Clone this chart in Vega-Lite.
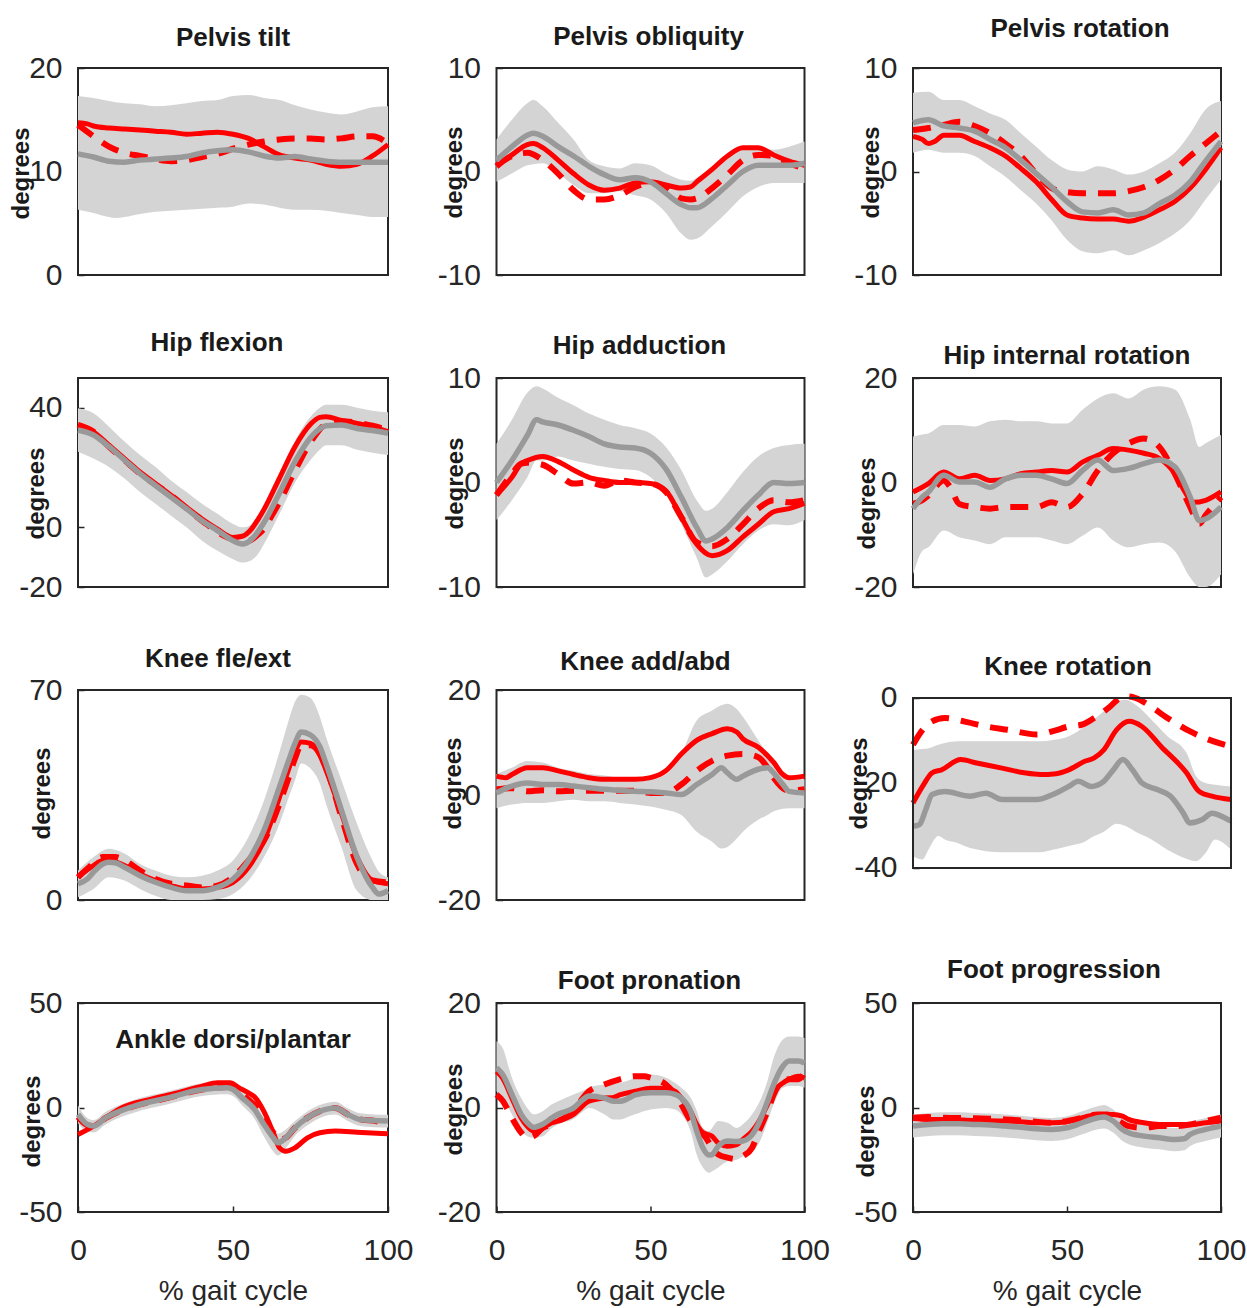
{
"$schema": "https://vega.github.io/schema/vega-lite/v6.json",
"padding": {"left": 8, "top": 14, "right": 5, "bottom": 2},
"background": "white",
"datasets": {
"p1": [
{"s":"b","x":0,"y":6.3,"y2":17.3},{"s":"b","x":5,"y":6.0,"y2":17.1},{"s":"b","x":10,"y":5.6,"y2":16.8},{"s":"b","x":12,"y":5.5,"y2":16.7},{"s":"b","x":15,"y":5.6,"y2":16.6},{"s":"b","x":20,"y":5.9,"y2":16.5},{"s":"b","x":25,"y":6.1,"y2":16.3},{"s":"b","x":30,"y":6.2,"y2":16.4},{"s":"b","x":35,"y":6.3,"y2":16.6},{"s":"b","x":40,"y":6.4,"y2":16.8},{"s":"b","x":45,"y":6.5,"y2":16.9},{"s":"b","x":50,"y":6.6,"y2":17.3},{"s":"b","x":55,"y":6.9,"y2":17.4},{"s":"b","x":60,"y":6.8,"y2":17.1},{"s":"b","x":65,"y":6.5,"y2":16.9},{"s":"b","x":70,"y":6.3,"y2":16.4},{"s":"b","x":75,"y":6.3,"y2":16.0},{"s":"b","x":80,"y":6.2,"y2":15.7},{"s":"b","x":85,"y":6.0,"y2":15.5},{"s":"b","x":90,"y":5.8,"y2":15.8},{"s":"b","x":95,"y":5.6,"y2":16.2},{"s":"b","x":100,"y":5.6,"y2":16.3},
{"s":"g","x":0,"y":11.7},{"s":"g","x":5,"y":11.4},{"s":"g","x":10,"y":11.0},{"s":"g","x":15,"y":10.9},{"s":"g","x":20,"y":11.1},{"s":"g","x":25,"y":11.2},{"s":"g","x":30,"y":11.3},{"s":"g","x":35,"y":11.45},{"s":"g","x":40,"y":11.8},{"s":"g","x":45,"y":12.0},{"s":"g","x":50,"y":12.1},{"s":"g","x":55,"y":11.9},{"s":"g","x":60,"y":11.5},{"s":"g","x":65,"y":11.3},{"s":"g","x":70,"y":11.45},{"s":"g","x":75,"y":11.2},{"s":"g","x":80,"y":11.0},{"s":"g","x":85,"y":10.9},{"s":"g","x":90,"y":10.9},{"s":"g","x":95,"y":10.9},{"s":"g","x":100,"y":10.9},
{"s":"r","x":0,"y":14.7},{"s":"r","x":3,"y":14.6},{"s":"r","x":5,"y":14.4},{"s":"r","x":10,"y":14.2},{"s":"r","x":15,"y":14.1},{"s":"r","x":20,"y":14.0},{"s":"r","x":25,"y":13.9},{"s":"r","x":30,"y":13.8},{"s":"r","x":35,"y":13.6},{"s":"r","x":40,"y":13.7},{"s":"r","x":45,"y":13.8},{"s":"r","x":50,"y":13.6},{"s":"r","x":55,"y":13.2},{"s":"r","x":60,"y":12.4},{"s":"r","x":65,"y":11.6},{"s":"r","x":70,"y":11.3},{"s":"r","x":75,"y":11.1},{"s":"r","x":80,"y":10.7},{"s":"r","x":85,"y":10.5},{"s":"r","x":90,"y":10.7},{"s":"r","x":95,"y":11.5},{"s":"r","x":100,"y":12.6},
{"s":"d","x":0,"y":14.5},{"s":"d","x":5,"y":13.4},{"s":"d","x":10,"y":12.4},{"s":"d","x":15,"y":11.8},{"s":"d","x":20,"y":11.5},{"s":"d","x":25,"y":11.2},{"s":"d","x":30,"y":11.0},{"s":"d","x":35,"y":11.1},{"s":"d","x":40,"y":11.4},{"s":"d","x":45,"y":11.7},{"s":"d","x":50,"y":12.2},{"s":"d","x":55,"y":12.6},{"s":"d","x":60,"y":12.9},{"s":"d","x":65,"y":13.1},{"s":"d","x":70,"y":13.2},{"s":"d","x":75,"y":13.2},{"s":"d","x":80,"y":13.1},{"s":"d","x":85,"y":13.2},{"s":"d","x":90,"y":13.4},{"s":"d","x":95,"y":13.4},{"s":"d","x":100,"y":12.7}
],
"p2": [
{"s":"b","x":0,"y":-1.0,"y2":3.1},{"s":"b","x":5,"y":-0.2,"y2":5.0},{"s":"b","x":10,"y":0.6,"y2":6.6},{"s":"b","x":12,"y":0.7,"y2":6.9},{"s":"b","x":15,"y":0.8,"y2":6.3},{"s":"b","x":20,"y":-0.2,"y2":4.7},{"s":"b","x":25,"y":-1.3,"y2":3.1},{"s":"b","x":30,"y":-2.1,"y2":1.1},{"s":"b","x":35,"y":-2.1,"y2":0.5},{"s":"b","x":40,"y":-1.9,"y2":0.3},{"s":"b","x":45,"y":-2.3,"y2":0.8},{"s":"b","x":50,"y":-2.7,"y2":0.6},{"s":"b","x":55,"y":-4.0,"y2":-0.2},{"s":"b","x":60,"y":-6.0,"y2":-0.8},{"s":"b","x":63,"y":-6.6,"y2":-0.9},{"s":"b","x":65,"y":-6.5,"y2":-0.6},{"s":"b","x":70,"y":-5.3,"y2":0.2},{"s":"b","x":75,"y":-3.9,"y2":1.3},{"s":"b","x":80,"y":-2.4,"y2":2.1},{"s":"b","x":85,"y":-1.5,"y2":2.3},{"s":"b","x":90,"y":-1.1,"y2":2.1},{"s":"b","x":95,"y":-1.1,"y2":2.4},{"s":"b","x":100,"y":-1.1,"y2":2.9},
{"s":"g","x":0,"y":1.1},{"s":"g","x":5,"y":2.4},{"s":"g","x":10,"y":3.5},{"s":"g","x":12,"y":3.7},{"s":"g","x":15,"y":3.4},{"s":"g","x":20,"y":2.4},{"s":"g","x":25,"y":1.5},{"s":"g","x":30,"y":0.5},{"s":"g","x":35,"y":-0.3},{"s":"g","x":40,"y":-0.8},{"s":"g","x":45,"y":-0.6},{"s":"g","x":50,"y":-1.0},{"s":"g","x":55,"y":-2.1},{"s":"g","x":60,"y":-3.2},{"s":"g","x":63,"y":-3.5},{"s":"g","x":65,"y":-3.5},{"s":"g","x":70,"y":-2.6},{"s":"g","x":75,"y":-1.3},{"s":"g","x":80,"y":0.0},{"s":"g","x":85,"y":0.6},{"s":"g","x":90,"y":0.6},{"s":"g","x":95,"y":0.6},{"s":"g","x":100,"y":0.8},
{"s":"r","x":0,"y":0.6},{"s":"r","x":5,"y":1.6},{"s":"r","x":10,"y":2.6},{"s":"r","x":12,"y":2.7},{"s":"r","x":15,"y":2.3},{"s":"r","x":20,"y":1.1},{"s":"r","x":25,"y":-0.2},{"s":"r","x":30,"y":-1.3},{"s":"r","x":35,"y":-1.8},{"s":"r","x":40,"y":-1.6},{"s":"r","x":45,"y":-1.1},{"s":"r","x":50,"y":-1.0},{"s":"r","x":55,"y":-1.3},{"s":"r","x":60,"y":-1.6},{"s":"r","x":63,"y":-1.5},{"s":"r","x":65,"y":-1.0},{"s":"r","x":70,"y":0.2},{"s":"r","x":75,"y":1.5},{"s":"r","x":80,"y":2.3},{"s":"r","x":85,"y":2.3},{"s":"r","x":90,"y":1.6},{"s":"r","x":95,"y":1.0},{"s":"r","x":100,"y":0.6},
{"s":"d","x":0,"y":0.5},{"s":"d","x":5,"y":1.5},{"s":"d","x":10,"y":1.8},{"s":"d","x":15,"y":1.1},{"s":"d","x":20,"y":-0.2},{"s":"d","x":25,"y":-1.8},{"s":"d","x":30,"y":-2.7},{"s":"d","x":35,"y":-2.7},{"s":"d","x":40,"y":-2.3},{"s":"d","x":45,"y":-1.5},{"s":"d","x":50,"y":-1.1},{"s":"d","x":55,"y":-1.5},{"s":"d","x":60,"y":-2.6},{"s":"d","x":63,"y":-2.7},{"s":"d","x":65,"y":-2.6},{"s":"d","x":70,"y":-1.6},{"s":"d","x":75,"y":-0.3},{"s":"d","x":80,"y":1.1},{"s":"d","x":85,"y":1.6},{"s":"d","x":90,"y":1.5},{"s":"d","x":95,"y":0.8},{"s":"d","x":100,"y":0.3}
],
"p3": [
{"s":"b","x":0,"y":1.8,"y2":7.6},{"s":"b","x":5,"y":2.1,"y2":7.7},{"s":"b","x":10,"y":1.8,"y2":6.9},{"s":"b","x":15,"y":1.8,"y2":6.9},{"s":"b","x":20,"y":1.5,"y2":6.3},{"s":"b","x":25,"y":0.5,"y2":5.6},{"s":"b","x":30,"y":-0.5,"y2":5.0},{"s":"b","x":35,"y":-1.8,"y2":3.7},{"s":"b","x":40,"y":-3.1,"y2":2.4},{"s":"b","x":45,"y":-4.7,"y2":1.1},{"s":"b","x":50,"y":-6.6,"y2":0.2},{"s":"b","x":55,"y":-7.7,"y2":0.0},{"s":"b","x":60,"y":-7.9,"y2":0.5},{"s":"b","x":65,"y":-7.6,"y2":0.2},{"s":"b","x":70,"y":-8.1,"y2":-0.3},{"s":"b","x":75,"y":-7.6,"y2":0.0},{"s":"b","x":80,"y":-6.9,"y2":0.8},{"s":"b","x":85,"y":-6.0,"y2":1.8},{"s":"b","x":90,"y":-4.7,"y2":3.7},{"s":"b","x":95,"y":-2.7,"y2":6.0},{"s":"b","x":100,"y":-0.8,"y2":6.8},
{"s":"g","x":0,"y":4.7},{"s":"g","x":5,"y":5.0},{"s":"g","x":10,"y":4.4},{"s":"g","x":15,"y":4.2},{"s":"g","x":20,"y":3.9},{"s":"g","x":25,"y":3.1},{"s":"g","x":30,"y":2.3},{"s":"g","x":35,"y":1.1},{"s":"g","x":40,"y":-0.2},{"s":"g","x":45,"y":-1.5},{"s":"g","x":50,"y":-2.9},{"s":"g","x":55,"y":-3.9},{"s":"g","x":60,"y":-4.0},{"s":"g","x":65,"y":-3.7},{"s":"g","x":70,"y":-4.2},{"s":"g","x":75,"y":-4.0},{"s":"g","x":80,"y":-3.1},{"s":"g","x":85,"y":-2.3},{"s":"g","x":90,"y":-1.0},{"s":"g","x":95,"y":1.0},{"s":"g","x":100,"y":2.9},
{"s":"r","x":0,"y":3.4},{"s":"r","x":3,"y":3.1},{"s":"r","x":5,"y":2.7},{"s":"r","x":7,"y":2.9},{"s":"r","x":10,"y":3.5},{"s":"r","x":15,"y":3.5},{"s":"r","x":20,"y":2.9},{"s":"r","x":25,"y":2.3},{"s":"r","x":30,"y":1.5},{"s":"r","x":35,"y":0.3},{"s":"r","x":40,"y":-1.0},{"s":"r","x":45,"y":-2.7},{"s":"r","x":50,"y":-4.2},{"s":"r","x":55,"y":-4.5},{"s":"r","x":60,"y":-4.6},{"s":"r","x":65,"y":-4.6},{"s":"r","x":70,"y":-4.8},{"s":"r","x":75,"y":-4.4},{"s":"r","x":80,"y":-3.7},{"s":"r","x":85,"y":-2.9},{"s":"r","x":90,"y":-1.6},{"s":"r","x":95,"y":0.2},{"s":"r","x":100,"y":2.3},
{"s":"d","x":0,"y":4.0},{"s":"d","x":5,"y":4.2},{"s":"d","x":10,"y":4.5},{"s":"d","x":15,"y":4.8},{"s":"d","x":20,"y":4.4},{"s":"d","x":25,"y":3.7},{"s":"d","x":30,"y":2.7},{"s":"d","x":35,"y":1.5},{"s":"d","x":40,"y":-0.2},{"s":"d","x":45,"y":-1.6},{"s":"d","x":48,"y":-1.9},{"s":"d","x":55,"y":-2.1},{"s":"d","x":60,"y":-2.1},{"s":"d","x":65,"y":-2.1},{"s":"d","x":70,"y":-1.9},{"s":"d","x":75,"y":-1.5},{"s":"d","x":80,"y":-0.8},{"s":"d","x":85,"y":0.2},{"s":"d","x":90,"y":1.5},{"s":"d","x":95,"y":2.7},{"s":"d","x":100,"y":3.9}
],
"p4": [
{"s":"b","x":0,"y":25.3,"y2":39.9},{"s":"b","x":5,"y":23.0,"y2":38.2},{"s":"b","x":10,"y":20.2,"y2":33.7},{"s":"b","x":15,"y":16.3,"y2":28.7},{"s":"b","x":20,"y":11.8,"y2":24.2},{"s":"b","x":25,"y":7.9,"y2":20.2},{"s":"b","x":30,"y":3.9,"y2":15.7},{"s":"b","x":35,"y":0.0,"y2":11.8},{"s":"b","x":40,"y":-4.5,"y2":7.9},{"s":"b","x":45,"y":-7.9,"y2":4.5},{"s":"b","x":50,"y":-10.7,"y2":1.1},{"s":"b","x":53,"y":-11.8,"y2":0.0},{"s":"b","x":56,"y":-11.0,"y2":0.8},{"s":"b","x":58,"y":-9.0,"y2":3.5},{"s":"b","x":60,"y":-5.6,"y2":7.0},{"s":"b","x":65,"y":4.5,"y2":18.0},{"s":"b","x":70,"y":15.0,"y2":29.0},{"s":"b","x":75,"y":22.5,"y2":37.0},{"s":"b","x":78,"y":26.0,"y2":40.0},{"s":"b","x":80,"y":27.5,"y2":41.0},{"s":"b","x":85,"y":27.5,"y2":41.0},{"s":"b","x":90,"y":26.0,"y2":40.0},{"s":"b","x":95,"y":25.0,"y2":39.0},{"s":"b","x":100,"y":24.2,"y2":38.5},
{"s":"g","x":0,"y":32.6},{"s":"g","x":5,"y":30.9},{"s":"g","x":10,"y":27.0},{"s":"g","x":15,"y":22.5},{"s":"g","x":20,"y":18.0},{"s":"g","x":25,"y":14.0},{"s":"g","x":30,"y":10.1},{"s":"g","x":35,"y":6.2},{"s":"g","x":40,"y":2.2},{"s":"g","x":45,"y":-1.1},{"s":"g","x":50,"y":-4.5},{"s":"g","x":53,"y":-5.6},{"s":"g","x":56,"y":-4.0},{"s":"g","x":58,"y":-1.5},{"s":"g","x":60,"y":1.6},{"s":"g","x":65,"y":11.5},{"s":"g","x":70,"y":22.0},{"s":"g","x":75,"y":30.0},{"s":"g","x":78,"y":33.0},{"s":"g","x":80,"y":34.0},{"s":"g","x":85,"y":34.3},{"s":"g","x":90,"y":33.1},{"s":"g","x":95,"y":32.4},{"s":"g","x":100,"y":31.5},
{"s":"r","x":0,"y":34.3},{"s":"r","x":5,"y":32.0},{"s":"r","x":10,"y":27.5},{"s":"r","x":15,"y":23.0},{"s":"r","x":20,"y":18.5},{"s":"r","x":25,"y":14.6},{"s":"r","x":30,"y":10.7},{"s":"r","x":35,"y":6.7},{"s":"r","x":40,"y":2.8},{"s":"r","x":45,"y":-0.6},{"s":"r","x":50,"y":-3.4},{"s":"r","x":53,"y":-3.0},{"s":"r","x":56,"y":-0.5},{"s":"r","x":58,"y":2.5},{"s":"r","x":60,"y":6.0},{"s":"r","x":65,"y":16.5},{"s":"r","x":70,"y":27.0},{"s":"r","x":75,"y":34.5},{"s":"r","x":78,"y":36.8},{"s":"r","x":80,"y":37.0},{"s":"r","x":85,"y":35.8},{"s":"r","x":90,"y":34.8},{"s":"r","x":95,"y":33.7},{"s":"r","x":100,"y":32.0},
{"s":"d","x":0,"y":34.3},{"s":"d","x":5,"y":32.0},{"s":"d","x":10,"y":27.0},{"s":"d","x":15,"y":22.5},{"s":"d","x":20,"y":18.0},{"s":"d","x":30,"y":10.7},{"s":"d","x":40,"y":2.2},{"s":"d","x":50,"y":-4.0},{"s":"d","x":55,"y":-4.5},{"s":"d","x":58,"y":-2.5},{"s":"d","x":60,"y":-0.5},{"s":"d","x":62,"y":3.0},{"s":"d","x":65,"y":8.5},{"s":"d","x":70,"y":19.0},{"s":"d","x":75,"y":28.5},{"s":"d","x":80,"y":34.5},{"s":"d","x":85,"y":35.5},{"s":"d","x":90,"y":35.0},{"s":"d","x":95,"y":34.0},{"s":"d","x":100,"y":32.5}
],
"p5": [
{"s":"b","x":0,"y":-3.6,"y2":3.7},{"s":"b","x":5,"y":-1.7,"y2":6.0},{"s":"b","x":10,"y":0.5,"y2":8.6},{"s":"b","x":13,"y":2.1,"y2":9.2},{"s":"b","x":15,"y":2.1,"y2":9.0},{"s":"b","x":20,"y":2.5,"y2":8.1},{"s":"b","x":25,"y":2.1,"y2":7.4},{"s":"b","x":30,"y":1.8,"y2":6.6},{"s":"b","x":35,"y":1.5,"y2":6.0},{"s":"b","x":40,"y":1.3,"y2":5.5},{"s":"b","x":45,"y":1.2,"y2":5.2},{"s":"b","x":50,"y":0.5,"y2":4.7},{"s":"b","x":55,"y":-1.1,"y2":3.4},{"s":"b","x":60,"y":-4.0,"y2":1.2},{"s":"b","x":65,"y":-7.2,"y2":-1.7},{"s":"b","x":68,"y":-9.1,"y2":-2.7},{"s":"b","x":70,"y":-8.8,"y2":-2.5},{"s":"b","x":75,"y":-7.5,"y2":-0.9},{"s":"b","x":80,"y":-5.9,"y2":1.0},{"s":"b","x":85,"y":-4.6,"y2":2.5},{"s":"b","x":90,"y":-4.0,"y2":3.3},{"s":"b","x":95,"y":-4.1,"y2":3.6},{"s":"b","x":100,"y":-3.6,"y2":3.7},
{"s":"g","x":0,"y":0.0},{"s":"g","x":5,"y":2.1},{"s":"g","x":10,"y":4.5},{"s":"g","x":13,"y":6.0},{"s":"g","x":15,"y":5.8},{"s":"g","x":20,"y":5.5},{"s":"g","x":25,"y":5.0},{"s":"g","x":30,"y":4.4},{"s":"g","x":35,"y":3.7},{"s":"g","x":40,"y":3.4},{"s":"g","x":45,"y":3.3},{"s":"g","x":50,"y":2.8},{"s":"g","x":55,"y":1.3},{"s":"g","x":60,"y":-1.4},{"s":"g","x":65,"y":-4.3},{"s":"g","x":68,"y":-5.6},{"s":"g","x":70,"y":-5.4},{"s":"g","x":75,"y":-4.3},{"s":"g","x":80,"y":-2.7},{"s":"g","x":85,"y":-1.2},{"s":"g","x":90,"y":0.0},{"s":"g","x":95,"y":-0.1},{"s":"g","x":100,"y":0.0},
{"s":"r","x":0,"y":-1.2},{"s":"r","x":5,"y":0.5},{"s":"r","x":8,"y":1.8},{"s":"r","x":10,"y":2.1},{"s":"r","x":15,"y":2.5},{"s":"r","x":20,"y":2.0},{"s":"r","x":25,"y":1.2},{"s":"r","x":30,"y":0.5},{"s":"r","x":35,"y":0.2},{"s":"r","x":40,"y":0.0},{"s":"r","x":45,"y":0.0},{"s":"r","x":50,"y":-0.1},{"s":"r","x":55,"y":-0.8},{"s":"r","x":60,"y":-3.3},{"s":"r","x":65,"y":-5.9},{"s":"r","x":70,"y":-7.0},{"s":"r","x":75,"y":-6.5},{"s":"r","x":80,"y":-5.2},{"s":"r","x":85,"y":-4.0},{"s":"r","x":90,"y":-2.8},{"s":"r","x":95,"y":-2.5},{"s":"r","x":100,"y":-2.0},
{"s":"d","x":0,"y":-1.2},{"s":"d","x":5,"y":0.8},{"s":"d","x":8,"y":1.8},{"s":"d","x":10,"y":1.9},{"s":"d","x":15,"y":1.7},{"s":"d","x":20,"y":0.8},{"s":"d","x":25,"y":-0.1},{"s":"d","x":30,"y":0.0},{"s":"d","x":35,"y":-0.3},{"s":"d","x":40,"y":0.2},{"s":"d","x":45,"y":0.0},{"s":"d","x":50,"y":-0.1},{"s":"d","x":55,"y":-0.9},{"s":"d","x":60,"y":-3.3},{"s":"d","x":65,"y":-5.7},{"s":"d","x":70,"y":-6.1},{"s":"d","x":75,"y":-5.4},{"s":"d","x":80,"y":-4.0},{"s":"d","x":85,"y":-2.5},{"s":"d","x":90,"y":-1.7},{"s":"d","x":95,"y":-1.9},{"s":"d","x":100,"y":-1.7}
],
"p6": [
{"s":"b","x":0,"y":-17.6,"y2":8.8},{"s":"b","x":3,"y":-13.1,"y2":9.2},{"s":"b","x":5,"y":-12.4,"y2":9.4},{"s":"b","x":10,"y":-9.2,"y2":11.0},{"s":"b","x":15,"y":-10.5,"y2":11.0},{"s":"b","x":20,"y":-11.1,"y2":10.7},{"s":"b","x":25,"y":-11.8,"y2":11.7},{"s":"b","x":30,"y":-10.5,"y2":12.0},{"s":"b","x":35,"y":-10.5,"y2":11.7},{"s":"b","x":40,"y":-10.5,"y2":11.7},{"s":"b","x":45,"y":-11.1,"y2":11.3},{"s":"b","x":50,"y":-11.8,"y2":11.3},{"s":"b","x":55,"y":-10.2,"y2":13.9},{"s":"b","x":60,"y":-8.6,"y2":16.1},{"s":"b","x":65,"y":-11.1,"y2":17.1},{"s":"b","x":70,"y":-12.4,"y2":16.1},{"s":"b","x":75,"y":-11.8,"y2":17.8},{"s":"b","x":80,"y":-11.5,"y2":18.4},{"s":"b","x":85,"y":-13.1,"y2":17.8},{"s":"b","x":90,"y":-18.2,"y2":12.0},{"s":"b","x":93,"y":-20.0,"y2":6.8},{"s":"b","x":95,"y":-20.0,"y2":7.5},{"s":"b","x":100,"y":-17.6,"y2":9.1},
{"s":"g","x":0,"y":-5.0},{"s":"g","x":3,"y":-2.8},{"s":"g","x":5,"y":-1.8},{"s":"g","x":10,"y":1.4},{"s":"g","x":15,"y":0.1},{"s":"g","x":20,"y":0.1},{"s":"g","x":25,"y":-0.9},{"s":"g","x":30,"y":0.7},{"s":"g","x":35,"y":1.4},{"s":"g","x":40,"y":1.4},{"s":"g","x":45,"y":0.7},{"s":"g","x":50,"y":-0.2},{"s":"g","x":55,"y":2.3},{"s":"g","x":60,"y":4.3},{"s":"g","x":65,"y":2.3},{"s":"g","x":70,"y":2.7},{"s":"g","x":75,"y":3.6},{"s":"g","x":80,"y":4.3},{"s":"g","x":85,"y":3.0},{"s":"g","x":90,"y":-2.8},{"s":"g","x":93,"y":-7.3},{"s":"g","x":95,"y":-7.0},{"s":"g","x":100,"y":-4.7},
{"s":"r","x":0,"y":-1.8},{"s":"r","x":5,"y":-0.2},{"s":"r","x":10,"y":2.0},{"s":"r","x":15,"y":0.7},{"s":"r","x":20,"y":1.4},{"s":"r","x":25,"y":0.4},{"s":"r","x":30,"y":0.7},{"s":"r","x":35,"y":1.7},{"s":"r","x":40,"y":2.0},{"s":"r","x":45,"y":2.3},{"s":"r","x":50,"y":2.0},{"s":"r","x":55,"y":3.9},{"s":"r","x":60,"y":5.2},{"s":"r","x":65,"y":6.5},{"s":"r","x":70,"y":6.2},{"s":"r","x":75,"y":5.6},{"s":"r","x":80,"y":4.6},{"s":"r","x":85,"y":1.7},{"s":"r","x":88,"y":-1.5},{"s":"r","x":91,"y":-3.8},{"s":"r","x":95,"y":-3.4},{"s":"r","x":100,"y":-1.8},
{"s":"d","x":0,"y":-4.1},{"s":"d","x":3,"y":-3.4},{"s":"d","x":5,"y":-2.5},{"s":"d","x":10,"y":0.4},{"s":"d","x":12,"y":-0.8},{"s":"d","x":15,"y":-4.1},{"s":"d","x":20,"y":-4.7},{"s":"d","x":25,"y":-5.0},{"s":"d","x":30,"y":-4.7},{"s":"d","x":35,"y":-4.7},{"s":"d","x":40,"y":-4.7},{"s":"d","x":45,"y":-3.8},{"s":"d","x":50,"y":-4.7},{"s":"d","x":55,"y":-2.2},{"s":"d","x":60,"y":2.3},{"s":"d","x":65,"y":5.6},{"s":"d","x":70,"y":7.5},{"s":"d","x":75,"y":8.4},{"s":"d","x":80,"y":6.8},{"s":"d","x":85,"y":1.7},{"s":"d","x":90,"y":-4.7},{"s":"d","x":93,"y":-7.9},{"s":"d","x":95,"y":-6.3},{"s":"d","x":100,"y":-2.8}
],
"p7": [
{"s":"b","x":0,"y":0.9,"y2":9.8},{"s":"b","x":5,"y":3.7,"y2":14.3},{"s":"b","x":10,"y":7.6,"y2":17.1},{"s":"b","x":15,"y":6.5,"y2":15.5},{"s":"b","x":20,"y":3.7,"y2":12.0},{"s":"b","x":25,"y":1.4,"y2":9.8},{"s":"b","x":30,"y":0.0,"y2":8.1},{"s":"b","x":35,"y":0.0,"y2":7.6},{"s":"b","x":40,"y":0.0,"y2":8.1},{"s":"b","x":45,"y":0.3,"y2":9.8},{"s":"b","x":50,"y":2.0,"y2":13.2},{"s":"b","x":55,"y":6.5,"y2":21.0},{"s":"b","x":60,"y":14.3,"y2":33.2},{"s":"b","x":65,"y":25.4,"y2":49.4},{"s":"b","x":68,"y":34.3,"y2":60.0},{"s":"b","x":70,"y":39.9,"y2":66.1},{"s":"b","x":72,"y":45.5,"y2":68.4},{"s":"b","x":75,"y":43.8,"y2":67.3},{"s":"b","x":78,"y":38.8,"y2":61.1},{"s":"b","x":80,"y":32.1,"y2":54.4},{"s":"b","x":85,"y":17.6,"y2":39.9},{"s":"b","x":90,"y":3.1,"y2":25.4},{"s":"b","x":95,"y":0.0,"y2":13.2},{"s":"b","x":97,"y":0.0,"y2":9.5},{"s":"b","x":100,"y":0.0,"y2":7.6},
{"s":"g","x":0,"y":5.4},{"s":"g","x":3,"y":7.0},{"s":"g","x":5,"y":9.3},{"s":"g","x":8,"y":12.0},{"s":"g","x":10,"y":12.6},{"s":"g","x":12,"y":12.4},{"s":"g","x":15,"y":10.9},{"s":"g","x":20,"y":8.1},{"s":"g","x":25,"y":5.9},{"s":"g","x":30,"y":4.2},{"s":"g","x":35,"y":3.1},{"s":"g","x":40,"y":3.1},{"s":"g","x":45,"y":4.2},{"s":"g","x":50,"y":7.0},{"s":"g","x":55,"y":13.2},{"s":"g","x":60,"y":23.2},{"s":"g","x":65,"y":37.7},{"s":"g","x":68,"y":46.6},{"s":"g","x":70,"y":52.2},{"s":"g","x":72,"y":56.0},{"s":"g","x":75,"y":55.0},{"s":"g","x":78,"y":51.1},{"s":"g","x":80,"y":45.5},{"s":"g","x":85,"y":29.9},{"s":"g","x":90,"y":14.3},{"s":"g","x":95,"y":4.2},{"s":"g","x":97,"y":2.0},{"s":"g","x":100,"y":3.1},
{"s":"r","x":0,"y":7.6},{"s":"r","x":5,"y":11.5},{"s":"r","x":8,"y":13.2},{"s":"r","x":10,"y":13.2},{"s":"r","x":15,"y":11.5},{"s":"r","x":20,"y":8.7},{"s":"r","x":25,"y":6.5},{"s":"r","x":30,"y":4.8},{"s":"r","x":35,"y":3.7},{"s":"r","x":40,"y":3.7},{"s":"r","x":45,"y":4.2},{"s":"r","x":50,"y":5.9},{"s":"r","x":55,"y":10.9},{"s":"r","x":60,"y":19.8},{"s":"r","x":65,"y":34.3},{"s":"r","x":68,"y":43.8},{"s":"r","x":70,"y":49.4},{"s":"r","x":72,"y":52.7},{"s":"r","x":75,"y":52.2},{"s":"r","x":78,"y":48.3},{"s":"r","x":80,"y":43.3},{"s":"r","x":85,"y":28.8},{"s":"r","x":90,"y":14.3},{"s":"r","x":95,"y":6.5},{"s":"r","x":100,"y":5.4},
{"s":"d","x":0,"y":7.6},{"s":"d","x":3,"y":10.4},{"s":"d","x":8,"y":14.3},{"s":"d","x":12,"y":14.3},{"s":"d","x":15,"y":13.2},{"s":"d","x":20,"y":9.8},{"s":"d","x":25,"y":7.0},{"s":"d","x":30,"y":5.4},{"s":"d","x":35,"y":4.8},{"s":"d","x":40,"y":4.2},{"s":"d","x":45,"y":4.8},{"s":"d","x":50,"y":7.6},{"s":"d","x":55,"y":13.2},{"s":"d","x":60,"y":19.8},{"s":"d","x":65,"y":32.1},{"s":"d","x":68,"y":41.0},{"s":"d","x":70,"y":47.2},{"s":"d","x":72,"y":51.6},{"s":"d","x":75,"y":51.6},{"s":"d","x":78,"y":48.8},{"s":"d","x":80,"y":44.4},{"s":"d","x":85,"y":27.6},{"s":"d","x":90,"y":12.0},{"s":"d","x":95,"y":6.5},{"s":"d","x":100,"y":5.9}
],
"p8": [
{"s":"b","x":0,"y":-2.5,"y2":4.0},{"s":"b","x":5,"y":-1.8,"y2":5.2},{"s":"b","x":10,"y":-1.5,"y2":6.5},{"s":"b","x":15,"y":-1.5,"y2":6.2},{"s":"b","x":20,"y":-1.2,"y2":5.2},{"s":"b","x":25,"y":-0.9,"y2":4.6},{"s":"b","x":30,"y":-1.2,"y2":4.0},{"s":"b","x":35,"y":-1.2,"y2":3.7},{"s":"b","x":40,"y":-1.5,"y2":3.3},{"s":"b","x":45,"y":-1.8,"y2":3.3},{"s":"b","x":50,"y":-2.2,"y2":3.0},{"s":"b","x":55,"y":-2.8,"y2":3.9},{"s":"b","x":60,"y":-3.8,"y2":7.8},{"s":"b","x":65,"y":-7.0,"y2":14.2},{"s":"b","x":70,"y":-8.9,"y2":16.1},{"s":"b","x":73,"y":-10.2,"y2":17.1},{"s":"b","x":75,"y":-9.9,"y2":17.4},{"s":"b","x":78,"y":-8.3,"y2":16.4},{"s":"b","x":80,"y":-7.0,"y2":14.9},{"s":"b","x":85,"y":-4.7,"y2":10.4},{"s":"b","x":88,"y":-3.8,"y2":7.8},{"s":"b","x":90,"y":-3.1,"y2":5.9},{"s":"b","x":93,"y":-2.6,"y2":4.0},{"s":"b","x":95,"y":-2.5,"y2":3.3},{"s":"b","x":100,"y":-2.5,"y2":3.0},
{"s":"g","x":0,"y":0.4},{"s":"g","x":5,"y":1.7},{"s":"g","x":10,"y":2.3},{"s":"g","x":15,"y":2.0},{"s":"g","x":20,"y":2.0},{"s":"g","x":25,"y":1.7},{"s":"g","x":30,"y":1.4},{"s":"g","x":35,"y":1.1},{"s":"g","x":40,"y":0.9},{"s":"g","x":45,"y":0.7},{"s":"g","x":50,"y":0.6},{"s":"g","x":55,"y":0.4},{"s":"g","x":60,"y":0.1},{"s":"g","x":65,"y":2.0},{"s":"g","x":70,"y":3.9},{"s":"g","x":73,"y":5.2},{"s":"g","x":75,"y":4.2},{"s":"g","x":78,"y":3.0},{"s":"g","x":80,"y":3.6},{"s":"g","x":85,"y":4.9},{"s":"g","x":88,"y":5.2},{"s":"g","x":90,"y":4.2},{"s":"g","x":93,"y":2.0},{"s":"g","x":95,"y":0.7},{"s":"g","x":100,"y":0.4},
{"s":"r","x":0,"y":3.6},{"s":"r","x":3,"y":3.3},{"s":"r","x":5,"y":3.9},{"s":"r","x":10,"y":5.2},{"s":"r","x":15,"y":5.2},{"s":"r","x":20,"y":4.6},{"s":"r","x":25,"y":3.9},{"s":"r","x":30,"y":3.3},{"s":"r","x":35,"y":3.0},{"s":"r","x":40,"y":3.0},{"s":"r","x":45,"y":3.0},{"s":"r","x":50,"y":3.3},{"s":"r","x":55,"y":4.6},{"s":"r","x":60,"y":7.8},{"s":"r","x":65,"y":10.4},{"s":"r","x":70,"y":11.7},{"s":"r","x":75,"y":12.6},{"s":"r","x":78,"y":12.0},{"s":"r","x":80,"y":10.7},{"s":"r","x":85,"y":9.1},{"s":"r","x":90,"y":6.2},{"s":"r","x":93,"y":3.9},{"s":"r","x":95,"y":3.3},{"s":"r","x":100,"y":3.6},
{"s":"d","x":0,"y":1.1},{"s":"d","x":5,"y":1.3},{"s":"d","x":10,"y":0.7},{"s":"d","x":15,"y":0.9},{"s":"d","x":20,"y":0.7},{"s":"d","x":25,"y":0.8},{"s":"d","x":30,"y":0.8},{"s":"d","x":35,"y":0.8},{"s":"d","x":40,"y":0.8},{"s":"d","x":45,"y":0.8},{"s":"d","x":50,"y":0.4},{"s":"d","x":55,"y":0.4},{"s":"d","x":60,"y":2.0},{"s":"d","x":65,"y":4.6},{"s":"d","x":70,"y":6.5},{"s":"d","x":75,"y":7.5},{"s":"d","x":80,"y":7.8},{"s":"d","x":85,"y":7.2},{"s":"d","x":88,"y":5.2},{"s":"d","x":90,"y":3.3},{"s":"d","x":95,"y":0.8},{"s":"d","x":100,"y":1.1}
],
"p9": [
{"s":"f","x":0,"x2":100,"y":-40,"y2":0},
{"s":"b","x":0,"y":-37.3,"y2":-12.2},{"s":"b","x":3,"y":-38.0,"y2":-12.0},{"s":"b","x":5,"y":-35.5,"y2":-11.8},{"s":"b","x":8,"y":-32.5,"y2":-11.0},{"s":"b","x":10,"y":-33.3,"y2":-10.6},{"s":"b","x":14,"y":-34.1,"y2":-10.2},{"s":"b","x":18,"y":-35.3,"y2":-10.2},{"s":"b","x":28,"y":-36.3,"y2":-10.2},{"s":"b","x":40,"y":-36.3,"y2":-10.2},{"s":"b","x":44,"y":-35.7,"y2":-9.9},{"s":"b","x":49,"y":-34.8,"y2":-9.0},{"s":"b","x":54,"y":-33.8,"y2":-6.7},{"s":"b","x":57,"y":-32.5,"y2":-5.0},{"s":"b","x":60,"y":-31.5,"y2":-3.1},{"s":"b","x":64,"y":-29.6,"y2":-0.8},{"s":"b","x":67,"y":-30.2,"y2":-0.4},{"s":"b","x":70,"y":-31.5,"y2":-1.6},{"s":"b","x":75,"y":-33.3,"y2":-5.1},{"s":"b","x":80,"y":-35.7,"y2":-9.0},{"s":"b","x":86,"y":-37.8,"y2":-12.9},{"s":"b","x":89,"y":-38.4,"y2":-18.4},{"s":"b","x":92,"y":-36.5,"y2":-20.0},{"s":"b","x":95,"y":-33.3,"y2":-20.4},{"s":"b","x":100,"y":-35.7,"y2":-20.8},
{"s":"g","x":0,"y":-30.2},{"s":"g","x":2,"y":-29.8},{"s":"g","x":4,"y":-26.3},{"s":"g","x":6,"y":-22.7},{"s":"g","x":10,"y":-22.0},{"s":"g","x":18,"y":-23.1},{"s":"g","x":23,"y":-22.4},{"s":"g","x":28,"y":-23.9},{"s":"g","x":39,"y":-23.9},{"s":"g","x":44,"y":-22.7},{"s":"g","x":49,"y":-20.8},{"s":"g","x":52,"y":-19.6},{"s":"g","x":56,"y":-20.8},{"s":"g","x":60,"y":-19.6},{"s":"g","x":63,"y":-16.9},{"s":"g","x":66,"y":-14.5},{"s":"g","x":69,"y":-16.9},{"s":"g","x":72,"y":-20.0},{"s":"g","x":77,"y":-21.6},{"s":"g","x":81,"y":-23.1},{"s":"g","x":85,"y":-27.1},{"s":"g","x":87,"y":-29.4},{"s":"g","x":91,"y":-28.6},{"s":"g","x":94,"y":-27.1},{"s":"g","x":96,"y":-27.5},{"s":"g","x":100,"y":-29.0},
{"s":"r","x":0,"y":-24.7},{"s":"r","x":3,"y":-20.8},{"s":"r","x":6,"y":-17.6},{"s":"r","x":9,"y":-16.9},{"s":"r","x":15,"y":-14.5},{"s":"r","x":20,"y":-15.3},{"s":"r","x":28,"y":-16.5},{"s":"r","x":35,"y":-17.6},{"s":"r","x":40,"y":-18.0},{"s":"r","x":45,"y":-17.8},{"s":"r","x":49,"y":-16.9},{"s":"r","x":54,"y":-14.9},{"s":"r","x":57,"y":-14.1},{"s":"r","x":60,"y":-12.2},{"s":"r","x":64,"y":-7.5},{"s":"r","x":68,"y":-5.5},{"s":"r","x":72,"y":-6.7},{"s":"r","x":78,"y":-11.4},{"s":"r","x":86,"y":-17.6},{"s":"r","x":90,"y":-22.0},{"s":"r","x":94,"y":-23.1},{"s":"r","x":100,"y":-23.9},
{"s":"d","x":0,"y":-11.0},{"s":"d","x":3,"y":-7.5},{"s":"d","x":6,"y":-5.5},{"s":"d","x":10,"y":-4.7},{"s":"d","x":16,"y":-5.5},{"s":"d","x":23,"y":-6.7},{"s":"d","x":30,"y":-7.5},{"s":"d","x":39,"y":-8.6},{"s":"d","x":44,"y":-7.8},{"s":"d","x":49,"y":-6.7},{"s":"d","x":53,"y":-6.3},{"s":"d","x":57,"y":-4.7},{"s":"d","x":62,"y":-2.0},{"s":"d","x":65,"y":0.0},{"s":"d","x":67,"y":0.4},{"s":"d","x":70,"y":0.0},{"s":"d","x":74,"y":-1.6},{"s":"d","x":80,"y":-4.7},{"s":"d","x":87,"y":-7.8},{"s":"d","x":93,"y":-9.8},{"s":"d","x":100,"y":-11.4}
],
"p10": [
{"s":"b","x":0,"y":-7.5,"y2":1.0},{"s":"b","x":3,"y":-11.5,"y2":-5.0},{"s":"b","x":5,"y":-12.0,"y2":-6.0},{"s":"b","x":9,"y":-8.0,"y2":-2.0},{"s":"b","x":18,"y":-2.5,"y2":3.6},{"s":"b","x":29,"y":1.5,"y2":7.6},{"s":"b","x":40,"y":5.5,"y2":11.6},{"s":"b","x":48,"y":6.3,"y2":12.4},{"s":"b","x":50,"y":5.5,"y2":11.6},{"s":"b","x":53,"y":1.0,"y2":7.8},{"s":"b","x":57,"y":-5.5,"y2":2.5},{"s":"b","x":60,"y":-14.0,"y2":-5.0},{"s":"b","x":63,"y":-21.0,"y2":-10.5},{"s":"b","x":64.5,"y":-23.0,"y2":-12.5},{"s":"b","x":67,"y":-19.5,"y2":-10.5},{"s":"b","x":70,"y":-13.5,"y2":-6.5},{"s":"b","x":74,"y":-8.5,"y2":-1.9},{"s":"b","x":78,"y":-5.0,"y2":1.2},{"s":"b","x":83,"y":-3.4,"y2":2.8},{"s":"b","x":87,"y":-6.4,"y2":-0.3},{"s":"b","x":91,"y":-8.8,"y2":-2.7},{"s":"b","x":100,"y":-9.6,"y2":-3.5},
{"s":"g","x":0,"y":-3.3},{"s":"g","x":3,"y":-8.1},{"s":"g","x":5,"y":-8.9},{"s":"g","x":9,"y":-4.9},{"s":"g","x":18,"y":0.6},{"s":"g","x":29,"y":4.6},{"s":"g","x":40,"y":8.6},{"s":"g","x":48,"y":9.4},{"s":"g","x":50,"y":8.6},{"s":"g","x":53,"y":4.6},{"s":"g","x":57,"y":-1.0},{"s":"g","x":60,"y":-8.1},{"s":"g","x":63,"y":-14.5},{"s":"g","x":64.5,"y":-16.9},{"s":"g","x":67,"y":-14.5},{"s":"g","x":70,"y":-9.7},{"s":"g","x":74,"y":-4.9},{"s":"g","x":78,"y":-1.8},{"s":"g","x":83,"y":-0.2},{"s":"g","x":87,"y":-3.3},{"s":"g","x":91,"y":-5.7},{"s":"g","x":100,"y":-6.5},
{"s":"r","x":0,"y":-12.9},{"s":"r","x":5,"y":-8.9},{"s":"r","x":9,"y":-4.9},{"s":"r","x":14,"y":-0.2},{"s":"r","x":23,"y":3.8},{"s":"r","x":32,"y":7.0},{"s":"r","x":40,"y":10.2},{"s":"r","x":45,"y":11.8},{"s":"r","x":49,"y":11.8},{"s":"r","x":52,"y":9.4},{"s":"r","x":55,"y":7.0},{"s":"r","x":57,"y":5.0},{"s":"r","x":60,"y":-2.0},{"s":"r","x":63,"y":-12.1},{"s":"r","x":65,"y":-19.3},{"s":"r","x":67,"y":-20.9},{"s":"r","x":70,"y":-19.3},{"s":"r","x":74,"y":-14.5},{"s":"r","x":78,"y":-12.1},{"s":"r","x":83,"y":-11.3},{"s":"r","x":90,"y":-11.8},{"s":"r","x":100,"y":-12.6},
{"s":"d","x":0,"y":-4.5},{"s":"d","x":3,"y":-8.5},{"s":"d","x":5,"y":-8.9},{"s":"d","x":9,"y":-5.0},{"s":"d","x":18,"y":0.6},{"s":"d","x":29,"y":4.6},{"s":"d","x":40,"y":8.6},{"s":"d","x":48,"y":9.8},{"s":"d","x":50,"y":9.4},{"s":"d","x":53,"y":6.2},{"s":"d","x":57,"y":1.0},{"s":"d","x":60,"y":-5.0},{"s":"d","x":63,"y":-12.0},{"s":"d","x":65,"y":-15.5},{"s":"d","x":67,"y":-14.5},{"s":"d","x":70,"y":-9.7},{"s":"d","x":74,"y":-4.9},{"s":"d","x":78,"y":-1.8},{"s":"d","x":83,"y":-0.2},{"s":"d","x":87,"y":-3.3},{"s":"d","x":91,"y":-5.7},{"s":"d","x":96,"y":-6.5},{"s":"d","x":100,"y":-8.1}
],
"p11": [
{"s":"b","x":0,"y":3.1,"y2":12.7},{"s":"b","x":2,"y":1.8,"y2":11.4},{"s":"b","x":5,"y":-1.3,"y2":5.7},{"s":"b","x":8,"y":-4.5,"y2":1.8},{"s":"b","x":10,"y":-5.5,"y2":-0.1},{"s":"b","x":12,"y":-5.8,"y2":-1.3},{"s":"b","x":15,"y":-5.5,"y2":-0.7},{"s":"b","x":18,"y":-3.9,"y2":0.6},{"s":"b","x":20,"y":-3.2,"y2":1.2},{"s":"b","x":25,"y":-2.2,"y2":2.5},{"s":"b","x":28,"y":-0.8,"y2":3.2},{"s":"b","x":30,"y":-0.1,"y2":3.8},{"s":"b","x":35,"y":-1.3,"y2":4.4},{"s":"b","x":38,"y":-2.3,"y2":4.6},{"s":"b","x":40,"y":-2.3,"y2":4.7},{"s":"b","x":43,"y":-1.7,"y2":5.2},{"s":"b","x":45,"y":-1.3,"y2":5.7},{"s":"b","x":50,"y":-0.4,"y2":6.3},{"s":"b","x":55,"y":-0.1,"y2":5.7},{"s":"b","x":58,"y":-0.4,"y2":4.7},{"s":"b","x":60,"y":-1.3,"y2":3.8},{"s":"b","x":63,"y":-4.5,"y2":1.9},{"s":"b","x":65,"y":-9.0,"y2":-0.6},{"s":"b","x":67,"y":-11.5,"y2":-3.9},{"s":"b","x":69,"y":-12.5,"y2":-4.5},{"s":"b","x":70,"y":-12.2,"y2":-3.9},{"s":"b","x":72,"y":-11.5,"y2":-2.6},{"s":"b","x":75,"y":-10.3,"y2":-2.9},{"s":"b","x":78,"y":-10.0,"y2":-3.9},{"s":"b","x":80,"y":-9.4,"y2":-3.2},{"s":"b","x":83,"y":-8.4,"y2":-1.3},{"s":"b","x":85,"y":-7.1,"y2":0.6},{"s":"b","x":88,"y":-2.7,"y2":5.1},{"s":"b","x":90,"y":0.6,"y2":9.5},{"s":"b","x":93,"y":3.8,"y2":13.0},{"s":"b","x":95,"y":4.1,"y2":13.6},{"s":"b","x":98,"y":4.1,"y2":13.6},{"s":"b","x":100,"y":3.8,"y2":13.3},
{"s":"g","x":0,"y":7.6},{"s":"g","x":2,"y":6.3},{"s":"g","x":5,"y":2.5},{"s":"g","x":8,"y":-1.3},{"s":"g","x":10,"y":-2.9},{"s":"g","x":12,"y":-3.8},{"s":"g","x":15,"y":-3.2},{"s":"g","x":18,"y":-2.0},{"s":"g","x":20,"y":-1.3},{"s":"g","x":25,"y":-0.1},{"s":"g","x":28,"y":1.5},{"s":"g","x":30,"y":2.2},{"s":"g","x":35,"y":1.8},{"s":"g","x":38,"y":1.2},{"s":"g","x":40,"y":1.2},{"s":"g","x":43,"y":1.8},{"s":"g","x":45,"y":2.4},{"s":"g","x":50,"y":2.8},{"s":"g","x":55,"y":2.8},{"s":"g","x":58,"y":2.5},{"s":"g","x":60,"y":1.8},{"s":"g","x":63,"y":-0.7},{"s":"g","x":65,"y":-4.5},{"s":"g","x":67,"y":-7.7},{"s":"g","x":69,"y":-9.1},{"s":"g","x":70,"y":-9.0},{"s":"g","x":72,"y":-7.4},{"s":"g","x":75,"y":-6.4},{"s":"g","x":78,"y":-6.5},{"s":"g","x":80,"y":-6.4},{"s":"g","x":83,"y":-5.2},{"s":"g","x":85,"y":-3.2},{"s":"g","x":88,"y":1.2},{"s":"g","x":90,"y":4.4},{"s":"g","x":93,"y":7.9},{"s":"g","x":95,"y":8.9},{"s":"g","x":98,"y":8.9},{"s":"g","x":100,"y":8.5},
{"s":"r","x":0,"y":6.9},{"s":"r","x":2,"y":5.6},{"s":"r","x":5,"y":1.8},{"s":"r","x":8,"y":-2.0},{"s":"r","x":10,"y":-3.6},{"s":"r","x":12,"y":-4.5},{"s":"r","x":15,"y":-3.9},{"s":"r","x":18,"y":-2.9},{"s":"r","x":20,"y":-2.6},{"s":"r","x":25,"y":-1.3},{"s":"r","x":30,"y":1.2},{"s":"r","x":35,"y":1.8},{"s":"r","x":38,"y":1.9},{"s":"r","x":40,"y":2.4},{"s":"r","x":45,"y":3.1},{"s":"r","x":50,"y":3.7},{"s":"r","x":55,"y":3.7},{"s":"r","x":58,"y":3.1},{"s":"r","x":60,"y":1.8},{"s":"r","x":63,"y":-0.7},{"s":"r","x":65,"y":-3.2},{"s":"r","x":67,"y":-4.8},{"s":"r","x":70,"y":-5.5},{"s":"r","x":72,"y":-6.8},{"s":"r","x":75,"y":-7.4},{"s":"r","x":78,"y":-7.1},{"s":"r","x":80,"y":-6.1},{"s":"r","x":83,"y":-4.5},{"s":"r","x":85,"y":-2.9},{"s":"r","x":88,"y":0.6},{"s":"r","x":90,"y":3.1},{"s":"r","x":93,"y":4.7},{"s":"r","x":95,"y":5.4},{"s":"r","x":98,"y":6.0},{"s":"r","x":100,"y":5.6},
{"s":"d","x":0,"y":2.5},{"s":"d","x":2,"y":1.3},{"s":"d","x":5,"y":-2.0},{"s":"d","x":8,"y":-4.8},{"s":"d","x":10,"y":-5.8},{"s":"d","x":12,"y":-5.5},{"s":"d","x":15,"y":-3.9},{"s":"d","x":18,"y":-3.2},{"s":"d","x":20,"y":-2.6},{"s":"d","x":25,"y":-0.7},{"s":"d","x":28,"y":1.8},{"s":"d","x":30,"y":3.1},{"s":"d","x":35,"y":4.4},{"s":"d","x":40,"y":5.4},{"s":"d","x":45,"y":6.0},{"s":"d","x":48,"y":6.0},{"s":"d","x":50,"y":5.7},{"s":"d","x":55,"y":4.4},{"s":"d","x":58,"y":2.5},{"s":"d","x":60,"y":0.6},{"s":"d","x":63,"y":-2.5},{"s":"d","x":65,"y":-3.9},{"s":"d","x":68,"y":-5.8},{"s":"d","x":70,"y":-7.7},{"s":"d","x":72,"y":-9.0},{"s":"d","x":75,"y":-9.6},{"s":"d","x":78,"y":-9.9},{"s":"d","x":80,"y":-9.3},{"s":"d","x":83,"y":-7.7},{"s":"d","x":85,"y":-4.8},{"s":"d","x":88,"y":-0.7},{"s":"d","x":90,"y":2.5},{"s":"d","x":93,"y":5.1},{"s":"d","x":95,"y":5.4},{"s":"d","x":98,"y":5.4},{"s":"d","x":100,"y":6.9}
],
"p12": [
{"s":"b","x":0,"y":-14.4,"y2":-3.4},{"s":"b","x":5,"y":-13.6,"y2":-2.6},{"s":"b","x":10,"y":-13.3,"y2":-2.3},{"s":"b","x":15,"y":-13.3,"y2":-2.3},{"s":"b","x":20,"y":-13.6,"y2":-2.6},{"s":"b","x":25,"y":-13.9,"y2":-2.9},{"s":"b","x":30,"y":-14.4,"y2":-3.4},{"s":"b","x":35,"y":-14.9,"y2":-3.9},{"s":"b","x":40,"y":-15.7,"y2":-4.7},{"s":"b","x":45,"y":-16.0,"y2":-5.0},{"s":"b","x":50,"y":-15.2,"y2":-4.2},{"s":"b","x":55,"y":-12.8,"y2":-1.8},{"s":"b","x":60,"y":-10.4,"y2":0.6},{"s":"b","x":62,"y":-10.0,"y2":1.2},{"s":"b","x":65,"y":-12.0,"y2":-1.0},{"s":"b","x":68,"y":-16.0,"y2":-5.0},{"s":"b","x":70,"y":-17.6,"y2":-6.6},{"s":"b","x":75,"y":-19.2,"y2":-8.2},{"s":"b","x":80,"y":-20.0,"y2":-9.0},{"s":"b","x":85,"y":-20.9,"y2":-9.8},{"s":"b","x":88,"y":-20.5,"y2":-9.5},{"s":"b","x":90,"y":-18.4,"y2":-7.4},{"s":"b","x":95,"y":-16.0,"y2":-5.0},{"s":"b","x":100,"y":-14.4,"y2":-3.4},
{"s":"g","x":0,"y":-8.9},{"s":"g","x":5,"y":-8.1},{"s":"g","x":10,"y":-7.8},{"s":"g","x":15,"y":-7.8},{"s":"g","x":20,"y":-8.1},{"s":"g","x":25,"y":-8.4},{"s":"g","x":30,"y":-8.9},{"s":"g","x":35,"y":-9.4},{"s":"g","x":40,"y":-10.2},{"s":"g","x":45,"y":-10.5},{"s":"g","x":50,"y":-9.7},{"s":"g","x":55,"y":-7.3},{"s":"g","x":60,"y":-4.9},{"s":"g","x":62,"y":-4.5},{"s":"g","x":65,"y":-6.5},{"s":"g","x":68,"y":-10.5},{"s":"g","x":70,"y":-12.1},{"s":"g","x":75,"y":-13.7},{"s":"g","x":80,"y":-14.5},{"s":"g","x":85,"y":-15.3},{"s":"g","x":88,"y":-15.0},{"s":"g","x":90,"y":-12.9},{"s":"g","x":95,"y":-10.5},{"s":"g","x":100,"y":-8.9},
{"s":"r","x":0,"y":-5.3},{"s":"r","x":5,"y":-5.7},{"s":"r","x":10,"y":-5.7},{"s":"r","x":20,"y":-6.2},{"s":"r","x":30,"y":-6.5},{"s":"r","x":35,"y":-6.8},{"s":"r","x":40,"y":-7.3},{"s":"r","x":45,"y":-7.3},{"s":"r","x":50,"y":-6.8},{"s":"r","x":55,"y":-4.9},{"s":"r","x":60,"y":-3.3},{"s":"r","x":65,"y":-3.3},{"s":"r","x":68,"y":-4.1},{"s":"r","x":70,"y":-5.7},{"s":"r","x":75,"y":-7.3},{"s":"r","x":80,"y":-8.1},{"s":"r","x":85,"y":-8.1},{"s":"r","x":90,"y":-8.1},{"s":"r","x":95,"y":-7.3},{"s":"r","x":100,"y":-6.5},
{"s":"d","x":0,"y":-4.9},{"s":"d","x":5,"y":-4.6},{"s":"d","x":10,"y":-4.9},{"s":"d","x":20,"y":-5.2},{"s":"d","x":30,"y":-5.7},{"s":"d","x":40,"y":-6.8},{"s":"d","x":45,"y":-7.3},{"s":"d","x":50,"y":-6.5},{"s":"d","x":55,"y":-4.9},{"s":"d","x":60,"y":-3.3},{"s":"d","x":63,"y":-3.3},{"s":"d","x":66,"y":-5.7},{"s":"d","x":70,"y":-8.9},{"s":"d","x":75,"y":-9.7},{"s":"d","x":80,"y":-8.9},{"s":"d","x":85,"y":-8.9},{"s":"d","x":90,"y":-8.1},{"s":"d","x":95,"y":-6.5},{"s":"d","x":100,"y":-4.9}
]
},
"columns": 3,
"bounds": "flush",
"spacing": {"row": 103, "column": 108.5},
"concat": [
{"width":310,"height":207,"data":{"name":"p1"},"title":{"text":"Pelvis tilt","offset":2.5,"dx":0},
 "encoding":{"x":{"field":"x","type":"quantitative","scale":{"domain":[0,100],"nice":false},"axis":null},"y":{"field":"y","type":"quantitative","scale":{"domain":[0,20],"nice":false},"axis":{"values":[0,10,20],"title":"degrees","titleX":-57,"titleY":105}}},
 "layer":[
  {"transform":[{"filter":"datum.s==='b'"}],"mark":{"type":"area","color":"#d4d4d4","interpolate":"monotone"},"encoding":{"y2":{"field":"y2"}}},
  {"transform":[{"filter":"datum.s==='r'"}],"mark":{"type":"line","color":"#ff0000","strokeWidth":5,"interpolate":"monotone"},"encoding":{}},
  {"transform":[{"filter":"datum.s==='d'"}],"mark":{"type":"line","color":"#ff0000","strokeWidth":6,"strokeDash":[18,12],"interpolate":"monotone"},"encoding":{}},
  {"transform":[{"filter":"datum.s==='g'"}],"mark":{"type":"line","color":"#999999","strokeWidth":5.5,"interpolate":"monotone"},"encoding":{}}
 ]},
{"width":308,"height":207,"data":{"name":"p2"},"title":{"text":"Pelvis obliquity","offset":3.5,"dx":-2},
 "encoding":{"x":{"field":"x","type":"quantitative","scale":{"domain":[0,100],"nice":false},"axis":null},"y":{"field":"y","type":"quantitative","scale":{"domain":[-10,10],"nice":false},"axis":{"values":[-10,0,10],"title":"degrees","titleX":-42,"titleY":104}}},
 "layer":[
  {"transform":[{"filter":"datum.s==='b'"}],"mark":{"type":"area","color":"#d4d4d4","interpolate":"monotone"},"encoding":{"y2":{"field":"y2"}}},
  {"transform":[{"filter":"datum.s==='r'"}],"mark":{"type":"line","color":"#ff0000","strokeWidth":5,"interpolate":"monotone"},"encoding":{}},
  {"transform":[{"filter":"datum.s==='d'"}],"mark":{"type":"line","color":"#ff0000","strokeWidth":6,"strokeDash":[18,12],"interpolate":"monotone"},"encoding":{}},
  {"transform":[{"filter":"datum.s==='g'"}],"mark":{"type":"line","color":"#999999","strokeWidth":5.5,"interpolate":"monotone"},"encoding":{}}
 ]},
{"width":308,"height":207,"data":{"name":"p3"},"title":{"text":"Pelvis rotation","offset":11.5,"dx":13},
 "encoding":{"x":{"field":"x","type":"quantitative","scale":{"domain":[0,100],"nice":false},"axis":null},"y":{"field":"y","type":"quantitative","scale":{"domain":[-10,10],"nice":false},"axis":{"values":[-10,0,10],"title":"degrees","titleX":-42,"titleY":104}}},
 "layer":[
  {"transform":[{"filter":"datum.s==='b'"}],"mark":{"type":"area","color":"#d4d4d4","interpolate":"monotone"},"encoding":{"y2":{"field":"y2"}}},
  {"transform":[{"filter":"datum.s==='r'"}],"mark":{"type":"line","color":"#ff0000","strokeWidth":5,"interpolate":"monotone"},"encoding":{}},
  {"transform":[{"filter":"datum.s==='d'"}],"mark":{"type":"line","color":"#ff0000","strokeWidth":6,"strokeDash":[18,12],"interpolate":"monotone"},"encoding":{}},
  {"transform":[{"filter":"datum.s==='g'"}],"mark":{"type":"line","color":"#999999","strokeWidth":5.5,"interpolate":"monotone"},"encoding":{}}
 ]},
{"width":310,"height":209,"data":{"name":"p4"},"title":{"text":"Hip flexion","offset":22.5,"dx":-16},
 "encoding":{"x":{"field":"x","type":"quantitative","scale":{"domain":[0,100],"nice":false},"axis":null},"y":{"field":"y","type":"quantitative","scale":{"domain":[-20,50],"nice":false},"axis":{"values":[-20,0,40],"title":"degrees","titleX":-42,"titleY":115}}},
 "layer":[
  {"transform":[{"filter":"datum.s==='b'"}],"mark":{"type":"area","color":"#d4d4d4","interpolate":"monotone"},"encoding":{"y2":{"field":"y2"}}},
  {"transform":[{"filter":"datum.s==='r'"}],"mark":{"type":"line","color":"#ff0000","strokeWidth":5,"interpolate":"monotone"},"encoding":{}},
  {"transform":[{"filter":"datum.s==='d'"}],"mark":{"type":"line","color":"#ff0000","strokeWidth":6,"strokeDash":[18,12],"interpolate":"monotone"},"encoding":{}},
  {"transform":[{"filter":"datum.s==='g'"}],"mark":{"type":"line","color":"#999999","strokeWidth":5.5,"interpolate":"monotone"},"encoding":{}}
 ]},
{"width":308,"height":209,"data":{"name":"p5"},"title":{"text":"Hip adduction","offset":4.5,"dx":-11},
 "encoding":{"x":{"field":"x","type":"quantitative","scale":{"domain":[0,100],"nice":false},"axis":null},"y":{"field":"y","type":"quantitative","scale":{"domain":[-10,10],"nice":false},"axis":{"values":[-10,0,10],"title":"degrees","titleX":-41,"titleY":105}}},
 "layer":[
  {"transform":[{"filter":"datum.s==='b'"}],"mark":{"type":"area","color":"#d4d4d4","interpolate":"monotone"},"encoding":{"y2":{"field":"y2"}}},
  {"transform":[{"filter":"datum.s==='r'"}],"mark":{"type":"line","color":"#ff0000","strokeWidth":5,"interpolate":"monotone"},"encoding":{}},
  {"transform":[{"filter":"datum.s==='d'"}],"mark":{"type":"line","color":"#ff0000","strokeWidth":6,"strokeDash":[18,12],"interpolate":"monotone"},"encoding":{}},
  {"transform":[{"filter":"datum.s==='g'"}],"mark":{"type":"line","color":"#999999","strokeWidth":5.5,"interpolate":"monotone"},"encoding":{}}
 ]},
{"width":308,"height":209,"data":{"name":"p6"},"title":{"text":"Hip internal rotation","offset":-5.5,"dx":0},
 "encoding":{"x":{"field":"x","type":"quantitative","scale":{"domain":[0,100],"nice":false},"axis":null},"y":{"field":"y","type":"quantitative","scale":{"domain":[-20,20],"nice":false},"axis":{"values":[-20,0,20],"title":"degrees","titleX":-46,"titleY":125}}},
 "layer":[
  {"transform":[{"filter":"datum.s==='b'"}],"mark":{"type":"area","color":"#d4d4d4","interpolate":"monotone"},"encoding":{"y2":{"field":"y2"}}},
  {"transform":[{"filter":"datum.s==='r'"}],"mark":{"type":"line","color":"#ff0000","strokeWidth":5,"interpolate":"monotone"},"encoding":{}},
  {"transform":[{"filter":"datum.s==='d'"}],"mark":{"type":"line","color":"#ff0000","strokeWidth":6,"strokeDash":[18,12],"interpolate":"monotone"},"encoding":{}},
  {"transform":[{"filter":"datum.s==='g'"}],"mark":{"type":"line","color":"#999999","strokeWidth":5.5,"interpolate":"monotone"},"encoding":{}}
 ]},
{"width":310,"height":210,"data":{"name":"p7"},"title":{"text":"Knee fle/ext","offset":3.5,"dx":-15},
 "encoding":{"x":{"field":"x","type":"quantitative","scale":{"domain":[0,100],"nice":false},"axis":null},"y":{"field":"y","type":"quantitative","scale":{"domain":[0,70],"nice":false},"axis":{"values":[0,70],"title":"degrees","titleX":-36,"titleY":103}}},
 "layer":[
  {"transform":[{"filter":"datum.s==='b'"}],"mark":{"type":"area","color":"#d4d4d4","interpolate":"monotone"},"encoding":{"y2":{"field":"y2"}}},
  {"transform":[{"filter":"datum.s==='r'"}],"mark":{"type":"line","color":"#ff0000","strokeWidth":5,"interpolate":"monotone"},"encoding":{}},
  {"transform":[{"filter":"datum.s==='d'"}],"mark":{"type":"line","color":"#ff0000","strokeWidth":6,"strokeDash":[18,12],"interpolate":"monotone"},"encoding":{}},
  {"transform":[{"filter":"datum.s==='g'"}],"mark":{"type":"line","color":"#999999","strokeWidth":5.5,"interpolate":"monotone"},"encoding":{}}
 ]},
{"width":308,"height":210,"data":{"name":"p8"},"title":{"text":"Knee add/abd","offset":0.5,"dx":-5},
 "encoding":{"x":{"field":"x","type":"quantitative","scale":{"domain":[0,100],"nice":false},"axis":null},"y":{"field":"y","type":"quantitative","scale":{"domain":[-20,20],"nice":false},"axis":{"values":[-20,0,20],"title":"degrees","titleX":-43,"titleY":93}}},
 "layer":[
  {"transform":[{"filter":"datum.s==='b'"}],"mark":{"type":"area","color":"#d4d4d4","interpolate":"monotone"},"encoding":{"y2":{"field":"y2"}}},
  {"transform":[{"filter":"datum.s==='r'"}],"mark":{"type":"line","color":"#ff0000","strokeWidth":5,"interpolate":"monotone"},"encoding":{}},
  {"transform":[{"filter":"datum.s==='d'"}],"mark":{"type":"line","color":"#ff0000","strokeWidth":6,"strokeDash":[18,12],"interpolate":"monotone"},"encoding":{}},
  {"transform":[{"filter":"datum.s==='g'"}],"mark":{"type":"line","color":"#999999","strokeWidth":5.5,"interpolate":"monotone"},"encoding":{}}
 ]},
{"width":318,"height":210,"data":{"name":"p9"},"view":{"stroke":null},"title":{"text":"Knee rotation","offset":2.5,"dx":-4},
 "encoding":{"x":{"field":"x","type":"quantitative","scale":{"domain":[0,100],"nice":false},"axis":null},"y":{"field":"y","type":"quantitative","scale":{"domain":[-47.53,1.88],"nice":false},"axis":{"values":[-40,-20,0],"title":"degrees","titleX":-54,"titleY":93}}},
 "layer":[
  {"transform":[{"filter":"datum.s==='b'"}],"mark":{"type":"area","color":"#d4d4d4","interpolate":"monotone"},"encoding":{"y2":{"field":"y2"}}},
  {"transform":[{"filter":"datum.s==='r'"}],"mark":{"type":"line","color":"#ff0000","strokeWidth":5,"interpolate":"monotone"},"encoding":{}},
  {"transform":[{"filter":"datum.s==='d'"}],"mark":{"type":"line","color":"#ff0000","strokeWidth":6,"strokeDash":[18,12],"interpolate":"monotone"},"encoding":{}},
  {"transform":[{"filter":"datum.s==='g'"}],"mark":{"type":"line","color":"#999999","strokeWidth":5.5,"interpolate":"monotone"},"encoding":{}},
  {"transform":[{"filter":"datum.s==='f'"}],"mark":{"type":"rect","fill":"transparent","stroke":"#262626","strokeWidth":2},"encoding":{"x2":{"field":"x2"},"y2":{"field":"y2"}}}
 ]},
{"width":310,"height":209,"data":{"name":"p10"},"title":{"text":"Ankle dorsi/plantar","offset":-64.5,"dx":0},
 "encoding":{"x":{"field":"x","type":"quantitative","scale":{"domain":[0,100],"nice":false},"axis":{"values":[0,50,100],"title":"% gait cycle","titleX":155,"titleY":87}},"y":{"field":"y","type":"quantitative","scale":{"domain":[-50,50],"nice":false},"axis":{"values":[-50,0,50],"title":"degrees","titleX":-46,"titleY":118}}},
 "layer":[
  {"transform":[{"filter":"datum.s==='b'"}],"mark":{"type":"area","color":"#d4d4d4","interpolate":"monotone"},"encoding":{"y2":{"field":"y2"}}},
  {"transform":[{"filter":"datum.s==='r'"}],"mark":{"type":"line","color":"#ff0000","strokeWidth":5,"interpolate":"monotone"},"encoding":{}},
  {"transform":[{"filter":"datum.s==='d'"}],"mark":{"type":"line","color":"#ff0000","strokeWidth":6,"strokeDash":[18,12],"interpolate":"monotone"},"encoding":{}},
  {"transform":[{"filter":"datum.s==='g'"}],"mark":{"type":"line","color":"#999999","strokeWidth":5.5,"interpolate":"monotone"},"encoding":{}}
 ]},
{"width":308,"height":209,"data":{"name":"p11"},"title":{"text":"Foot pronation","offset":-5.5,"dx":-1},
 "encoding":{"x":{"field":"x","type":"quantitative","scale":{"domain":[0,100],"nice":false},"axis":{"values":[0,50,100],"title":"% gait cycle","titleX":154,"titleY":87}},"y":{"field":"y","type":"quantitative","scale":{"domain":[-20,20],"nice":false},"axis":{"values":[-20,0,20],"title":"degrees","titleX":-42,"titleY":106}}},
 "layer":[
  {"transform":[{"filter":"datum.s==='b'"}],"mark":{"type":"area","color":"#d4d4d4","interpolate":"monotone"},"encoding":{"y2":{"field":"y2"}}},
  {"transform":[{"filter":"datum.s==='r'"}],"mark":{"type":"line","color":"#ff0000","strokeWidth":5,"interpolate":"monotone"},"encoding":{}},
  {"transform":[{"filter":"datum.s==='d'"}],"mark":{"type":"line","color":"#ff0000","strokeWidth":6,"strokeDash":[18,12],"interpolate":"monotone"},"encoding":{}},
  {"transform":[{"filter":"datum.s==='g'"}],"mark":{"type":"line","color":"#999999","strokeWidth":5.5,"interpolate":"monotone"},"encoding":{}}
 ]},
{"width":308,"height":209,"data":{"name":"p12"},"title":{"text":"Foot progression","offset":5.5,"dx":-13},
 "encoding":{"x":{"field":"x","type":"quantitative","scale":{"domain":[0,100],"nice":false},"axis":{"values":[0,50,100],"title":"% gait cycle","titleX":154,"titleY":87}},"y":{"field":"y","type":"quantitative","scale":{"domain":[-50,50],"nice":false},"axis":{"values":[-50,0,50],"title":"degrees","titleX":-47,"titleY":128}}},
 "layer":[
  {"transform":[{"filter":"datum.s==='b'"}],"mark":{"type":"area","color":"#d4d4d4","interpolate":"monotone"},"encoding":{"y2":{"field":"y2"}}},
  {"transform":[{"filter":"datum.s==='r'"}],"mark":{"type":"line","color":"#ff0000","strokeWidth":5,"interpolate":"monotone"},"encoding":{}},
  {"transform":[{"filter":"datum.s==='d'"}],"mark":{"type":"line","color":"#ff0000","strokeWidth":6,"strokeDash":[18,12],"interpolate":"monotone"},"encoding":{}},
  {"transform":[{"filter":"datum.s==='g'"}],"mark":{"type":"line","color":"#999999","strokeWidth":5.5,"interpolate":"monotone"},"encoding":{}}
 ]}
],
"config": {
  "view": {"stroke": "#262626", "strokeWidth": 2},
  "axis": {"grid": false, "domain": false, "ticks": true, "tickSize": -6, "tickColor": "#262626", "tickWidth": 1.5, "labelFont": "Liberation Sans", "labelFontSize": 30, "labelColor": "#262626", "labelFlush": false, "labelOverlap": false, "labelExpr": "datum.value + ''"},
  "axisY": {"labelPadding": 22, "titleFont": "Liberation Sans", "titleFontSize": 24, "titleFontWeight": "bold", "titleColor": "#1a1a1a", "titleBaseline": "middle", "titleAlign": "center", "titleAngle": -90},
  "axisX": {"labelPadding": 29, "titleFont": "Liberation Sans", "titleFontSize": 28, "titleFontWeight": "normal", "titleColor": "#262626", "titleBaseline": "alphabetic", "titleAlign": "center"},
  "title": {"font": "Liberation Sans", "fontSize": 26, "fontWeight": "bold", "color": "#1a1a1a", "baseline": "alphabetic", "frame": "group", "anchor": "middle"}
}
}
